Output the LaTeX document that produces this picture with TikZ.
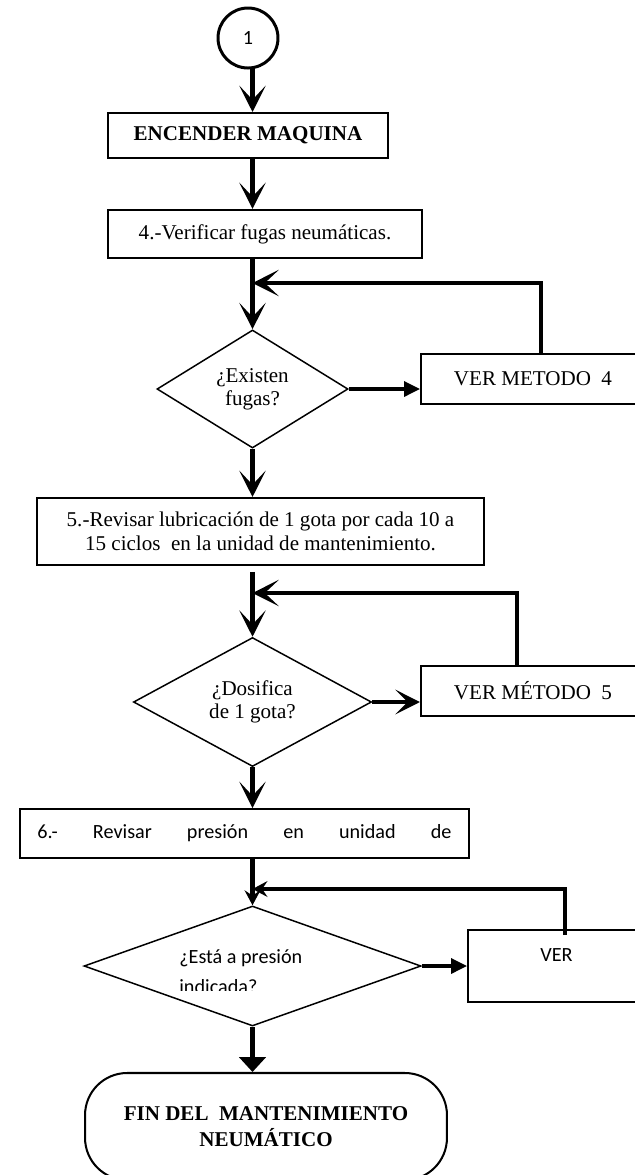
\documentclass[tikz,border=0pt]{standalone}
\usepackage{fontspec}
\setmainfont{Liberation Serif}
\newfontfamily\calibri{Carlito}
\usetikzlibrary{shapes.geometric, arrows.meta, calc}

\begin{document}
\begin{tikzpicture}[x=0.57pt,y=-0.57pt,
  box/.style={draw,line width=1.15pt,inner sep=0pt,align=center,font=\fontsize{12}{14}\selectfont},
  decision/.style={draw,diamond,line width=0.85pt,inner sep=0pt,align=center,font=\fontsize{12}{13.2}\selectfont},
  flow/.style={line width=2.3pt,-{Stealth[length=15pt,width=15pt,inset=8pt]}},
  flowthin/.style={line width=2.3pt,-{Stealth[length=8.5pt,width=9pt,inset=3pt]}},
  side/.style={line width=1.8pt,-{Triangle[length=9pt,width=8.5pt]}}]
  \useasboundingbox (0,0) rectangle (635,1175);
  % steps
  \path (248,38) node[draw,circle,line width=1.7pt,minimum size=34.2pt,inner sep=0pt,font=\calibri\fontsize{11.5}{14}\selectfont] (start) {1}
  (248,135.5) node[box,minimum width=159.6pt,minimum height=25.65pt,font=\fontsize{12}{14}\selectfont\bfseries] (encender) {ENCENDER MAQUINA}
  (265,234) node[box,minimum width=179pt,minimum height=27.4pt] (verif) {4.-Verificar fugas neumáticas.}
  (252.5,389) node[decision,minimum width=108.9pt,minimum height=67.3pt] (fugas) {¿Existen\\fugas?}
  (533,379) node[box,minimum width=127.7pt,minimum height=28.5pt] (metodo4) {VER METODO~ 4}
  (260.5,531.5) node[box,minimum width=254.8pt,minimum height=38.2pt] (lubric) {5.-Revisar lubricación de 1 gota por cada 10 a\\15 ciclos~ en la unidad de mantenimiento.}
  (252.5,702) node[decision,minimum width=135.7pt,minimum height=67.3pt] (gota) {¿Dosifica\\de 1 gota?}
  (533,691) node[box,minimum width=127.7pt,minimum height=28.5pt] (metodo5) {VER MÉTODO~ 5}
  (244.5,833.5) node[box,minimum width=255.9pt,minimum height=27.9pt,font=\calibri\fontsize{11.5}{14}\selectfont] (presion) {\hbox to 236pt{6.-\hfill Revisar\hfill presión\hfill en\hfill unidad\hfill de}}
  (252.5,966) node[decision,minimum width=192.1pt,minimum height=68.4pt] (indicada) {}
  (556.5,966) node[box,minimum width=100.9pt,minimum height=41pt,text depth=12.6pt,font=\calibri\fontsize{11.5}{14}\selectfont] (metodo6) {VER}
  (266,1126.5) node[box,rounded corners=24pt,minimum width=206.3pt,minimum height=61pt,font=\fontsize{12}{15}\selectfont\bfseries] (fin) {FIN DEL~ MANTENIMIENTO\\NEUMÁTICO};
  \begin{scope}
    \clip (150,930) rectangle (360,990);
    \node[anchor=base west,inner sep=0pt,align=left,font=\calibri\fontsize{11.5}{17.1}\selectfont] (pregunta) at (179,993) {¿Está a presión\\indicada?};
  \end{scope}
  \coordinate (k1) at (541,283);
  \coordinate (k2) at (517,593);
  \coordinate (k3) at (565,889);
  % main line
  \draw[flow] (fugas.north |- start.south) -- (fugas.north |- encender.north);
  \draw[flow] (fugas.north |- encender.south) -- (fugas.north |- verif.north);
  \draw[flow] (fugas.north |- verif.south) -- (fugas.north);
  \draw[flow] (fugas.south) -- (fugas.south |- lubric.north);
  \draw[flow,shorten <=3.4pt] (gota.north |- lubric.south) -- (gota.north);
  \draw[flow] (gota.south) -- (gota.south |- presion.north);
  \draw[flowthin] (indicada.north |- presion.south) -- (indicada.north);
  \draw[line width=2.3pt,-{Triangle[length=8.5pt,width=15pt]}] (indicada.south) -- (indicada.south |- fin.north);
  % side branches
  \draw[side] (fugas.east) -- (fugas.east -| metodo4.west);
  \draw[line width=2.3pt,-{Stealth[length=14pt,width=14pt,inset=7pt]}] (gota.east) -- (gota.east -| metodo5.west);
  \draw[side] (indicada.east) -- (indicada.east -| metodo6.west);
  % loops back
  \draw[flow] (metodo4.north -| k1) -- (k1) -- (fugas.north |- k1);
  \draw[flow] (metodo5.north -| k2) -- (k2) -- (gota.north |- k2);
  \draw[flowthin] ([yshift=-3.4pt]metodo6.north -| k3) -- (k3) -- (indicada.north |- k3);
\end{tikzpicture}
\end{document}
